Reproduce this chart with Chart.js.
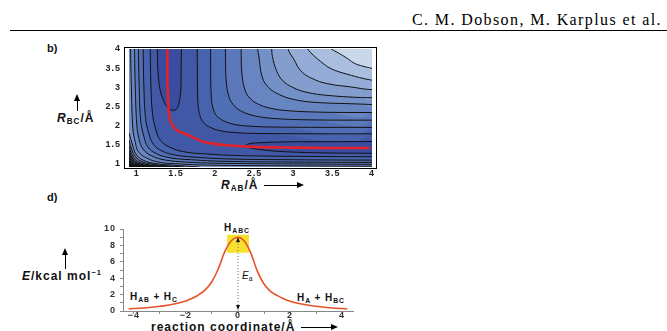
<!DOCTYPE html>
<html><head><meta charset="utf-8">
<script src="https://cdn.jsdelivr.net/npm/chart.js@4/dist/chart.umd.min.js"></script>
<style>
html,body{margin:0;padding:0;background:#fff;width:667px;height:331px;overflow:hidden;position:relative;font-family:'Liberation Sans',Arial,sans-serif}
.t{position:absolute;white-space:nowrap;color:#111;font-weight:bold;line-height:1}
.t sub{font-size:68%;vertical-align:-2px}
canvas{position:absolute}
.sh{position:absolute;background:#000}
.hu{position:absolute;width:0;height:0;border-left:3px solid transparent;border-right:3px solid transparent;border-bottom:7px solid #000}
.hr{position:absolute;width:0;height:0;border-top:3px solid transparent;border-bottom:3px solid transparent;border-left:7px solid #000}
</style></head><body>
<div class="t" style="right:5px;top:11px;font:16px 'Liberation Serif',serif;letter-spacing:1.4px;color:#000">C. M. Dobson, M. Karplus et al.</div>
<div class="sh" style="left:10px;top:30px;width:657px;height:1px"></div>

<div class="t" style="left:47px;top:43px;font-size:11px">b)</div>
<div class="t" style="left:57px;top:112px;font-size:12px;letter-spacing:1px"><i>R</i><sub>BC</sub>/Å</div>
<div class="sh" style="left:77px;top:100px;width:1px;height:11px"></div>
<div class="hu" style="left:74px;top:94px"></div>
<div class="t" style="left:221px;top:179px;font-size:12px;letter-spacing:1px"><i>R</i><sub>AB</sub>/Å</div>
<div class="sh" style="left:264px;top:185px;width:33px;height:1px"></div>
<div class="hr" style="left:297px;top:182px"></div>

<div class="t" style="left:47px;top:192px;font-size:11px">d)</div>
<div class="t" style="left:22px;top:269px;font-size:12px;letter-spacing:1px"><i>E</i>/kcal mol<sup style="font-size:62%;vertical-align:5px">−1</sup></div>
<div class="sh" style="left:65px;top:254px;width:1px;height:15px"></div>
<div class="hu" style="left:62px;top:248px"></div>
<div class="t" style="left:151px;top:321px;font-size:12px;letter-spacing:1px">reaction coordinate/Å</div>
<div class="sh" style="left:301px;top:327px;width:30px;height:1px"></div>
<div class="hr" style="left:331px;top:324px"></div>

<div class="t" style="left:224px;top:223px;font-size:10px;letter-spacing:1px">H<sub>ABC</sub></div>
<div class="t" style="left:242px;top:271px;font-size:10px;font-weight:normal"><i>E</i><sub>a</sub></div>
<div class="t" style="left:130px;top:292px;font-size:10px;letter-spacing:0.9px">H<sub>AB</sub> + H<sub>C</sub></div>
<div class="t" style="left:297px;top:293px;font-size:10px;letter-spacing:0.9px">H<sub>A</sub> + H<sub>BC</sub></div>

<canvas id="cb" width="300" height="160" style="left:90px;top:35px"></canvas>
<canvas id="cd" width="290" height="116" style="left:80px;top:215px"></canvas>

<script>
// ================= Panel b: potential energy surface (R_AB, R_BC / Å) =================
const bTicks = [1, 1.5, 2, 2.5, 3, 3.5, 4];
const bTickLabels = ['1', '1.5', '2', '2.5', '3', '3.5', '4'];

// contour lines on the plateau side (nested L shapes), [R_AB, R_BC]
const outerContours = [
  [[1.77,4],[1.78,2.57],[1.81,2.22],[1.86,2.05],[1.94,1.94],[2.05,1.86],[2.22,1.81],[2.57,1.78],[4,1.77]],
  [[1.94,4],[1.95,2.74],[1.98,2.39],[2.03,2.22],[2.11,2.11],[2.22,2.03],[2.39,1.98],[2.74,1.95],[4,1.94]],
  [[2.13,4],[2.14,3.17],[2.18,2.72],[2.25,2.49],[2.35,2.35],[2.49,2.25],[2.72,2.18],[3.17,2.14],[4,2.13]],
  [[2.33,4],[2.34,3.37],[2.38,2.92],[2.45,2.69],[2.55,2.55],[2.69,2.45],[2.92,2.38],[3.37,2.34],[4,2.33]],
  [[2.54,4],[2.556,3.82],[2.6,3.26],[2.68,2.99],[2.81,2.81],[2.99,2.68],[3.26,2.6],[3.82,2.556],[4,2.54]],
  [[2.72,4],[2.73,3.8],[2.78,3.44],[2.86,3.17],[2.99,2.99],[3.17,2.86],[3.44,2.78],[3.8,2.73],[4,2.72]],
  [[2.93,4],[2.95,3.9],[3.0,3.74],[3.09,3.43],[3.23,3.23],[3.43,3.09],[3.74,3.0],[3.9,2.95],[4,2.93]],
  [[3.18,4],[3.22,3.9],[3.34,3.68],[3.48,3.48],[3.68,3.34],[3.9,3.22],[4,3.18]],
  [[3.48,4],[3.54,3.93],[3.61,3.85],[3.7,3.73],[3.78,3.62],[3.88,3.55],[4,3.49]]
];
// contour lines on the repulsive-wall side
const wallContours = [
  [[1.17,4],[1.18,3.0],[1.2,2.3],[1.24,1.9],[1.3,1.6],[1.42,1.42],[1.6,1.3],[1.9,1.24],[2.3,1.2],[3.0,1.18],[4,1.17]],
  [[1.08,4],[1.09,3.0],[1.11,2.2],[1.15,1.8],[1.21,1.5],[1.32,1.32],[1.5,1.21],[1.8,1.15],[2.2,1.11],[3.0,1.09],[4,1.08]],
  [[1.02,4],[1.03,3.0],[1.05,2.1],[1.09,1.7],[1.14,1.43],[1.25,1.25],[1.43,1.14],[1.7,1.09],[2.1,1.05],[3.0,1.03],[4,1.02]],
  [[0.97,4],[0.98,3.0],[1.0,2.0],[1.03,1.62],[1.08,1.37],[1.19,1.19],[1.37,1.08],[1.62,1.03],[2.0,1.0],[3.0,0.98],[4,0.97]],
  [[0.92,4],[0.93,3.0],[0.95,1.9],[0.98,1.55],[1.02,1.3],[1.13,1.13],[1.3,1.02],[1.55,0.98],[1.9,0.95],[3.0,0.93],[4,0.92]]
];
// dense contours in the lower-left corner
const cornerContours = [
  [[0.9,1.8],[0.95,1.45],[0.99,1.24],[1.08,1.08],[1.24,0.99],[1.45,0.95],[1.8,0.9]],
  [[0.9,1.6],[0.94,1.33],[0.98,1.18],[1.05,1.05],[1.18,0.98],[1.33,0.94],[1.6,0.9]],
  [[0.9,1.45],[0.93,1.26],[0.965,1.13],[1.025,1.025],[1.13,0.965],[1.26,0.93],[1.45,0.9]],
  [[0.9,1.33],[0.925,1.2],[0.955,1.09],[1.005,1.005],[1.09,0.955],[1.2,0.925],[1.33,0.9]],
  [[0.9,1.25],[0.92,1.15],[0.948,1.06],[0.99,0.99],[1.06,0.948],[1.15,0.92],[1.25,0.9]],
  [[0.9,1.18],[0.915,1.11],[0.94,1.04],[0.975,0.975],[1.04,0.94],[1.11,0.915],[1.18,0.9]],
  [[0.9,1.12],[0.912,1.07],[0.93,1.015],[0.96,0.96],[1.015,0.93],[1.07,0.912],[1.12,0.9]],
  [[0.9,1.07],[0.91,1.03],[0.925,0.99],[0.95,0.95],[0.99,0.925],[1.03,0.91],[1.07,0.9]],
  [[0.9,1.03],[0.907,1.0],[0.918,0.97],[0.94,0.94],[0.97,0.918],[1.0,0.907],[1.03,0.9]],
  [[0.9,1.0],[0.905,0.975],[0.913,0.955],[0.93,0.93],[0.955,0.913],[0.975,0.905],[1.0,0.9]]
];
// lowest contours: closed U shapes in the two valleys
const valleyContours = [
  [[1.26,4],[1.27,3.4],[1.3,2.9],[1.35,2.6],[1.41,2.43],[1.46,2.39],[1.51,2.43],[1.54,2.6],[1.56,2.9],[1.565,3.5],[1.57,4]],
  [[4,1.26],[3.4,1.27],[2.9,1.3],[2.6,1.35],[2.43,1.41],[2.39,1.46],[2.43,1.51],[2.6,1.54],[2.9,1.56],[3.5,1.565],[4,1.57]]
];
// minimum-energy reaction path (red)
const pathAB = [1.39,1.39,1.40,1.41,1.43,1.47,1.54,1.63,1.72,1.82,1.95,2.15,2.5,3.0,3.5,3.97];
const pathBC = [4.0,3.2,2.6,2.3,2.1,1.95,1.83,1.76,1.68,1.58,1.52,1.47,1.43,1.41,1.40,1.40];

// ================= Panel d: energy profile =================
const dX = [-4.2,-4,-3.5,-3,-2.5,-2,-1.75,-1.5,-1.25,-1,-0.75,-0.5,-0.25,0,0.25,0.5,0.75,1,1.25,1.5,1.75,2,2.5,3,3.5,4,4.2];
const dE = [0.25,0.3,0.4,0.57,0.82,1.22,1.55,2.0,2.6,3.6,5.2,7.3,8.6,9.0,8.5,7.0,4.8,3.3,2.4,1.9,1.5,1.2,0.82,0.57,0.4,0.3,0.25];
const dXTicks = [-4,-3,-2,-1,0,1,2,3,4];
const dXTickLabels = ['\u22124','','\u22122','','0','','2','','4'];
const dYTicks = [0,1,2,3,4,5,6,7,8,9,10];
const dYTickLabels = ['0','','2','','4','','6','','8','','10'];
const barrierTop = 9.0;
const tsBoxX = [-0.42, 0.42];
const tsBoxE = [7.1, 9.3];

// ---------------- styles ----------------
const baseColor = '#4058a6';
const valleyColor = '#3a4c9f';
const levelColors = ['#4763ad','#506eb3','#5b79ba','#6785c1','#7491c7','#839ecd','#95add6','#aabfdf','#c8d7ea'];
const cornerColors = ['#6f7fae','#65739f','#5b6690','#505a80','#454d6e','#3a405c','#2e3349','#232637','#181a25','#101010'];
const tickFont = {family:"'Liberation Sans', Arial, sans-serif", size:9, weight:'bold'};
const spacing = {id:'spacing', beforeDraw(chart){ chart.ctx.letterSpacing = '1px'; }};

const toPts = arr => arr.map(p => ({x:p[0], y:p[1]}));
function mk(points, o) {
  return Object.assign({data: toPts(points), showLine: true, pointRadius: 0, pointHoverRadius: 0,
    tension: 0.4, borderWidth: 0, borderColor: 'rgba(0,0,0,0)', fill: false}, o);
}

const bDatasets = [];
outerContours.forEach((c, k) => bDatasets.push(mk(c.concat([[4,4]]), {fill:'shape', backgroundColor: levelColors[k], order: 100 - k})));
wallContours.forEach((c, k) => bDatasets.push(mk(c.concat([[4,0.9],[0.9,0.9],[0.9,4]]), {fill:'shape', backgroundColor: levelColors[k], order: 100 - k})));
cornerContours.forEach((c, k) => bDatasets.push(mk(c.concat([[0.9,0.9]]), {fill:'shape', backgroundColor: cornerColors[k], order: 80 - k})));
valleyContours.forEach(c => bDatasets.push(mk(c, {fill:'shape', backgroundColor: valleyColor, order: 70})));
[].concat(outerContours, wallContours, cornerContours, valleyContours).forEach(c =>
  bDatasets.push(mk(c, {borderColor: '#111', borderWidth: 1, order: 2})));
bDatasets.push({data: pathAB.map((x, i) => ({x, y: pathBC[i]})), showLine: true, pointRadius: 0, tension: 0.4,
  borderColor: '#e3222b', borderWidth: 2.6, fill: false, order: 1});

const bPlugin = {
  id: 'bframe',
  beforeDatasetsDraw(chart) {
    const a = chart.chartArea, ctx = chart.ctx;
    ctx.save(); ctx.fillStyle = baseColor; ctx.fillRect(a.left, a.top, a.right - a.left, a.bottom - a.top); ctx.restore();
  },
  afterDraw(chart) {
    const a = chart.chartArea, ctx = chart.ctx;
    ctx.save(); ctx.strokeStyle = '#000'; ctx.lineWidth = 1;
    ctx.strokeRect(Math.round(a.left) - 5 + 0.5, Math.round(a.top) - 2 + 0.5, (a.right - a.left) + 9, (a.bottom - a.top) + 3);
    ctx.restore();
  }
};

new Chart(document.getElementById('cb'), {
  type: 'scatter',
  data: {datasets: bDatasets},
  options: {
    responsive: false, animation: false, devicePixelRatio: 1,
    layout: {padding: {top: 14, right: 18, left: 0, bottom: 0}},
    plugins: {legend: {display: false}, tooltip: {enabled: false}},
    scales: {
      x: {type: 'linear', min: 0.9, max: 4.0,
        afterBuildTicks: s => { s.ticks = bTicks.map(v => ({value: v})); },
        afterFit: s => { s.height = 28; },
        ticks: {callback: v => bTickLabels[bTicks.indexOf(v)], font: tickFont, color: '#222', padding: 1, maxRotation: 0, autoSkip: false},
        grid: {display: false, drawTicks: false}, border: {display: false}},
      y: {type: 'linear', min: 0.9, max: 4.0,
        afterBuildTicks: s => { s.ticks = bTicks.map(v => ({value: v})); },
        afterFit: s => { s.width = 39; },
        ticks: {callback: v => bTickLabels[bTicks.indexOf(v)], font: tickFont, color: '#222', padding: 8, autoSkip: false},
        grid: {display: false, drawTicks: false}, border: {display: false}}
    }
  },
  plugins: [spacing, bPlugin]
});

// ---------------- Panel d ----------------
const dPlugin = {
  id: 'darrows',
  afterDatasetsDraw(chart) {
    const xs = chart.scales.x, ys = chart.scales.y, ctx = chart.ctx;
    const px = xs.getPixelForValue(0);
    const top = ys.getPixelForValue(barrierTop), bot = ys.getPixelForValue(0);
    ctx.save(); ctx.fillStyle = '#111';
    ctx.beginPath(); ctx.moveTo(px, top); ctx.lineTo(px - 2, top + 5); ctx.lineTo(px + 2, top + 5); ctx.closePath(); ctx.fill();
    ctx.beginPath(); ctx.moveTo(px, bot - 1); ctx.lineTo(px - 2, bot - 6); ctx.lineTo(px + 2, bot - 6); ctx.closePath(); ctx.fill();
    ctx.restore();
  }
};
new Chart(document.getElementById('cd'), {
  type: 'scatter',
  data: {datasets: [
    {data: dX.map((x, i) => ({x, y: dE[i]})), showLine: true, pointRadius: 0, tension: 0.4,
      borderColor: '#e8522a', borderWidth: 1.6, fill: false, order: 1},
    {data: [{x: 0, y: 0}, {x: 0, y: barrierTop}], showLine: true, pointRadius: 0,
      borderColor: '#777', borderWidth: 1, borderDash: [1, 2], fill: false, order: 2},
    {data: [{x: tsBoxX[0], y: tsBoxE[0]}, {x: tsBoxX[1], y: tsBoxE[0]}, {x: tsBoxX[1], y: tsBoxE[1]}, {x: tsBoxX[0], y: tsBoxE[1]}],
      showLine: true, pointRadius: 0, tension: 0, borderWidth: 0, borderColor: 'rgba(0,0,0,0)',
      backgroundColor: '#f8e12c', fill: 'shape', order: 5}
  ]},
  options: {
    responsive: false, animation: false, devicePixelRatio: 1,
    layout: {padding: {top: 14, right: 17, left: 0, bottom: 0}},
    plugins: {legend: {display: false}, tooltip: {enabled: false}},
    scales: {
      x: {type: 'linear', min: -4.42, max: 4.42,
        afterBuildTicks: s => { s.ticks = dXTicks.map(v => ({value: v})); },
        afterFit: s => { s.height = 20; },
        ticks: {callback: v => dXTickLabels[dXTicks.indexOf(v)], font: tickFont, color: '#333', padding: -4, maxRotation: 0, autoSkip: false},
        grid: {drawOnChartArea: false, drawTicks: true, tickLength: 3, color: '#888'},
        border: {display: true, color: '#888'}},
      y: {type: 'linear', min: 0, max: 10,
        afterBuildTicks: s => { s.ticks = dYTicks.map(v => ({value: v})); },
        afterFit: s => { s.width = 43; },
        ticks: {callback: v => dYTickLabels[dYTicks.indexOf(v)], font: tickFont, color: '#333', padding: 4, autoSkip: false},
        grid: {drawOnChartArea: false, drawTicks: true, tickLength: 3, color: '#888'},
        border: {display: true, color: '#888'}}
    }
  },
  plugins: [spacing, dPlugin]
});
</script>
</body></html>
